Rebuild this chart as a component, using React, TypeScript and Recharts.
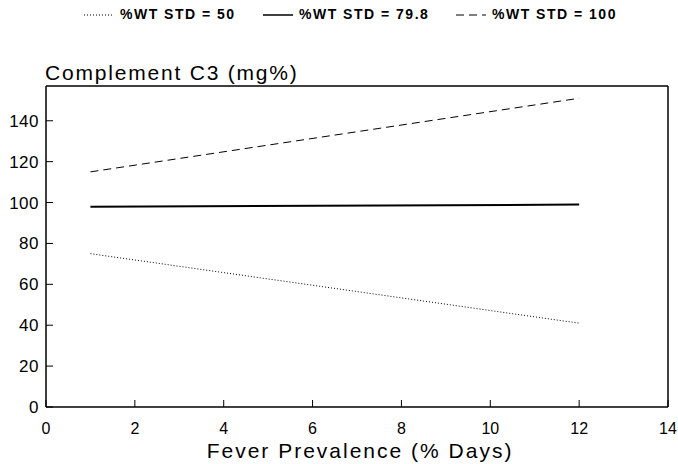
import { LineChart, Line, XAxis, YAxis, ReferenceLine } from "recharts";

const feverDays = [1, 12];
const wt50 = [75, 41];
const wt798 = [98, 99];
const wt100 = [115, 151];
const xTicks = [0, 2, 4, 6, 8, 10, 12, 14];
const yTicks = [0, 20, 40, 60, 80, 100, 120, 140];

const data = feverDays.map((d, i) => ({
  days: d,
  wt50: wt50[i],
  wt798: wt798[i],
  wt100: wt100[i],
}));

const series = [
  { key: "wt50", label: "%WT STD = 50", dash: "1 2", width: 1, textX: 120 },
  { key: "wt798", label: "%WT STD = 79.8", dash: undefined, width: 2, textX: 299 },
  { key: "wt100", label: "%WT STD = 100", dash: "8 5", width: 1, textX: 492 },
];

const font = "'Liberation Sans', Arial, sans-serif";
const PLOT_LEFT = 46;
const PLOT_BOTTOM = 407;

const YTick = (props: any) => {
  const { y, payload } = props;
  return (
    <g>
      <line x1={PLOT_LEFT} x2={PLOT_LEFT + 7} y1={y} y2={y} stroke="#000" />
      <text x={PLOT_LEFT - 7} y={y} dy={6} textAnchor="end" fontSize={17} letterSpacing={0.5} fontFamily={font} fill="#000">
        {payload.value}
      </text>
    </g>
  );
};

const XTick = (props: any) => {
  const { x, payload } = props;
  return (
    <g>
      <line x1={x} x2={x} y1={PLOT_BOTTOM} y2={PLOT_BOTTOM - 7} stroke="#000" />
      <text x={x} y={PLOT_BOTTOM + 27} textAnchor="middle" fontSize={16} fontFamily={font} fill="#000">
        {payload.value}
      </text>
    </g>
  );
};

const LegendRow = () => (
  <div style={{ position: "absolute", left: 0, top: 0, width: 678, height: 30, fontFamily: font, fontSize: 14, fontWeight: "bold", letterSpacing: 1.5 }}>
    {series.map((s) => (
      <div key={s.key}>
        <svg style={{ position: "absolute", left: s.textX - 36, top: 12 }} width={30} height={6}>
          <line x1={0} x2={30} y1={3} y2={3} stroke="#000" strokeWidth={s.width === 2 ? 1.5 : 1} strokeDasharray={s.dash} />
        </svg>
        <span style={{ position: "absolute", left: s.textX, top: 6, whiteSpace: "nowrap" }}>{s.label}</span>
      </div>
    ))}
  </div>
);

export default function App() {
  return (
    <div style={{ position: "absolute", left: 0, top: 0, width: 678, height: 464, background: "#fff" }}>
      <LineChart width={678} height={464} data={data} margin={{ top: 86, right: 10, bottom: 27, left: 0 }}>
        <XAxis
          dataKey="days"
          type="number"
          domain={[0, 14]}
          ticks={xTicks}
          tick={<XTick />}
          tickLine={false}
          axisLine={{ stroke: "#000", strokeWidth: 1.5 }}
          height={30}
          interval={0}
        />
        <YAxis
          type="number"
          domain={[0, 157]}
          ticks={yTicks}
          tick={<YTick />}
          tickLine={false}
          axisLine={{ stroke: "#000", strokeWidth: 1.5 }}
          width={46}
          interval={0}
        />
        <ReferenceLine y={157} stroke="#000" strokeWidth={1.5} />
        <ReferenceLine x={14} stroke="#000" strokeWidth={1.5} />
        {series.map((s) => (
          <Line
            key={s.key}
            dataKey={s.key}
            stroke="#000"
            strokeWidth={s.width}
            strokeDasharray={s.dash}
            dot={false}
            isAnimationActive={false}
          />
        ))}
        <text x={PLOT_LEFT - 1} y={80} fontSize={21} letterSpacing={1.8} fontFamily={font} fill="#000">
          Complement C3 (mg%)
        </text>
        <text x={360} y={458} textAnchor="middle" fontSize={21} letterSpacing={2} fontFamily={font} fill="#000">
          Fever Prevalence (% Days)
        </text>
      </LineChart>
      <LegendRow />
    </div>
  );
}
